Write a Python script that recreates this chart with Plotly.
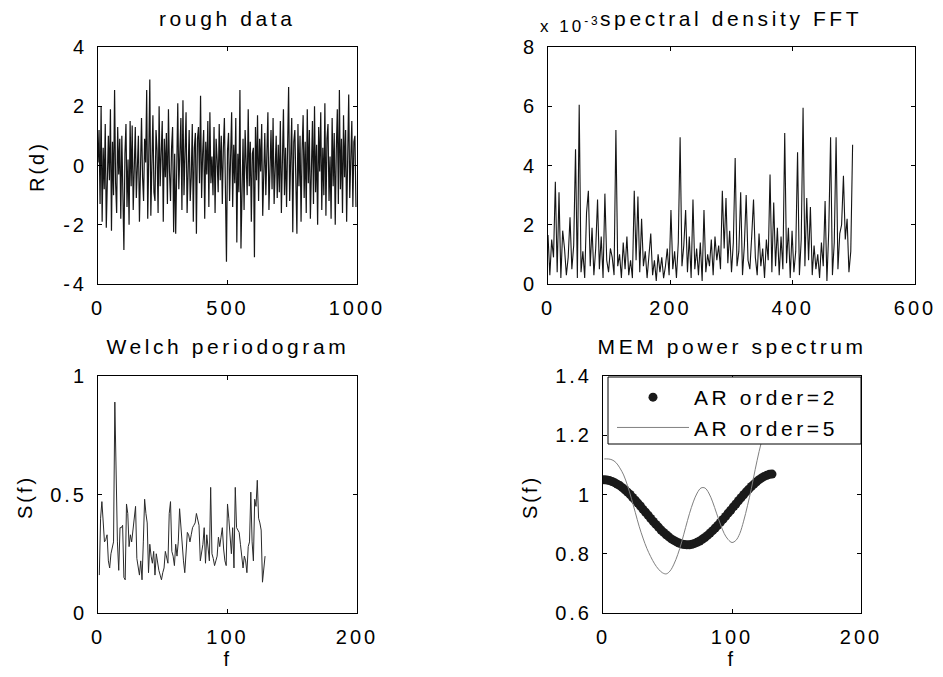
import numpy as np
import plotly.graph_objects as go

# ---------------- data ----------------
rough_step = 4
rough_vals = [
    0.1, 1.2, -1.3, 2.0, -1.9, 0.6, -0.8, 1.4, -2.1, 0.3, 1.0, -0.5, 1.9, -2.2, 0.8, -1.0, 2.55, -0.6, -1.6, 1.3, -0.3, 0.9, -1.8, 1.0, -1.1,
    -2.85, 0.4, 1.4, -1.4, 0.2, -2.0, 1.5, -0.7, 1.35, -1.5, 0.5, 1.3, -1.1, -0.3, 1.0, -1.9, 0.7, 1.6, -0.4, -1.2, 0.9, 0.1, 2.55, -1.8, 0.3,
    2.9, -1.7, 0.8, 1.7, -0.9, -1.2, 1.2, 0.5, -1.6, 2.0, -0.7, 0.3, 1.5, -1.9, 0.9, -0.4, 1.1, -1.3, 1.9, -0.2, -1.2, 0.6, 1.3, -2.25, 0.4,
    -2.3, 1.0, 2.1, -0.8, 0.2, 1.6, -1.5, 2.2, -1.0, 0.7, 1.8, -1.6, 0.1, 1.2, -1.2, -0.4, 1.4, -1.9, 0.6, 1.1, -2.3, 0.9, 1.3, -0.6, 2.35,
    -1.1, 0.4, 1.2, -1.8, 0.8, -0.3, 1.5, -1.4, 1.8, -0.6, 0.3, -1.0, 1.3, -1.6, 0.9, 0.2, -0.9, 1.4, -0.5, 1.0, -1.3, 0.6, 1.6, -0.8, -3.25,
    0.5, 1.1, -1.2, 0.2, 1.8, -1.4, 0.7, -0.6, 1.6, -2.6, 0.4, -0.9, 2.55, -2.8, -0.3, 0.9, -1.5, 1.2, 0.1, -1.0, 1.9, -0.7, 0.8, -1.9, 0.4,
    0.6, -3.1, 1.3, -0.5, 1.7, -1.2, 0.9, -0.2, 1.4, -1.7, 0.3, 1.1, -1.0, 0.5, 1.8, -1.5, -0.4, 1.2, -0.8, 1.6, -1.3, 0.2, 1.0, -1.1, 0.7,
    -0.9, 1.5, -1.6, 0.4, 1.9, -1.0, 0.6, -1.4, 0.9, 2.65, -1.2, 0.3, 1.6, -2.25, 0.8, 1.2, -0.5, -2.3, 1.4, -0.7, 1.0, -1.9, 0.5, 1.7, -1.1,
    0.8, -1.6, 1.9, -0.6, 1.2, -1.8, 0.4, 1.5, -1.3, 2.0, -0.9, 0.7, -2.0, 1.3, -0.2, 1.8, -1.5, 0.6, -1.0, 2.1, -1.7, 0.9, 1.4, -1.2, 0.3,
    -1.8, 1.6, -0.7, 1.1, -2.0, 0.5, 1.9, -1.3, 2.55, -0.8, 0.9, -1.6, 1.7, -0.4, 1.2, -1.9, 0.6, 2.4, -1.1, 0.3, 1.5, -1.4, 0.8, 1.0, -1.4,
]

fft_step = 3
fft_vals_e3 = [  # spectral density, in units of 1e-3
    1.65, 0.3, 1.5, 0.9, 3.45, 0.4, 3.1, 0.2, 1.8, 1.2,
    0.3, 0.9, 2.25, 0.5, 1.3, 4.55, 0.2, 6.05, 0.4, 1.1,
    0.2, 2.4, 3.15, 0.6, 1.9, 0.3, 1.2, 2.85, 0.5, 1.6,
    0.2, 3.05, 0.8, 0.4, 1.2, 0.9, 0.3, 5.2, 0.6, 1.0,
    0.2, 1.4, 0.5, 1.6, 0.3, 0.8, 0.2, 3.15, 0.8, 2.95,
    0.4, 2.2, 0.6, 1.1, 0.2, 1.0, 1.7, 0.3, 0.8, 0.1,
    1.0, 0.4, 0.9, 0.2, 0.6, 1.2, 0.3, 2.5, 0.5, 1.1,
    0.2, 1.4, 4.95, 0.6, 1.3, 2.5, 0.4, 1.6, 0.2, 2.85,
    0.5, 1.2, 0.3, 1.4, 0.1, 2.5, 0.4, 1.0, 0.6, 1.5,
    0.3, 1.6, 0.8, 1.3, 0.5, 3.15, 1.2, 2.9, 0.7, 1.8,
    0.4, 1.4, 4.25, 0.6, 1.1, 3.1, 0.3, 1.3, 3.0, 0.8,
    0.5, 1.6, 2.85, 0.9, 0.3, 1.7, 0.6, 1.2, 0.2, 1.5,
    0.8, 3.7, 0.4, 2.75, 0.6, 1.9, 0.3, 1.6, 0.5, 5.1,
    0.7, 1.9, 0.2, 1.8, 0.4, 1.1, 4.45, 0.3, 1.5, 5.95,
    0.6, 2.9, 0.8, 2.6, 0.3, 1.3, 0.5, 1.0, 0.2, 1.4,
    0.6, 2.8, 0.1, 1.8, 4.95, 0.3, 1.4, 4.95, 0.5, 1.7,
    2.0, 3.65, 1.5, 2.2, 0.4, 1.1, 4.7,
]

welch_vals = [
    0.16, 0.40, 0.47, 0.38, 0.30, 0.31, 0.33, 0.22, 0.19, 0.25,
    0.27, 0.30, 0.89, 0.55, 0.30, 0.18, 0.36, 0.36, 0.37, 0.15,
    0.14, 0.46, 0.42, 0.28, 0.33, 0.30, 0.36, 0.40, 0.45, 0.23,
    0.20, 0.16, 0.22, 0.14, 0.30, 0.48, 0.42, 0.38, 0.17, 0.29,
    0.24, 0.21, 0.26, 0.16, 0.25, 0.21, 0.18, 0.16, 0.14, 0.17,
    0.19, 0.26, 0.23, 0.21, 0.42, 0.47, 0.26, 0.24, 0.20, 0.29,
    0.24, 0.30, 0.44, 0.36, 0.30, 0.22, 0.17, 0.26, 0.34, 0.33,
    0.30, 0.33, 0.36, 0.37, 0.38, 0.42, 0.40, 0.37, 0.22, 0.26,
    0.29, 0.36, 0.21, 0.33, 0.28, 0.22, 0.53, 0.25, 0.23, 0.20,
    0.22, 0.24, 0.32, 0.28, 0.32, 0.36, 0.27, 0.22, 0.20, 0.46,
    0.40, 0.33, 0.25, 0.36, 0.19, 0.53, 0.36, 0.35, 0.34, 0.29,
    0.24, 0.19, 0.24, 0.22, 0.17, 0.28, 0.30, 0.51, 0.30, 0.22,
    0.48, 0.45, 0.56, 0.40, 0.38, 0.35, 0.13, 0.20, 0.24,
]

ar2_step = 2
ar2_vals = [
    1.050, 1.049, 1.047, 1.044, 1.040, 1.035, 1.030, 1.023, 1.016, 1.008,
    1.000, 0.990, 0.981, 0.971, 0.961, 0.950, 0.940, 0.930, 0.919, 0.909,
    0.899, 0.890, 0.880, 0.872, 0.864, 0.857, 0.850, 0.845, 0.840, 0.836,
    0.833, 0.831, 0.830, 0.830, 0.832, 0.835, 0.839, 0.843, 0.849, 0.855,
    0.862, 0.870, 0.878, 0.887, 0.896, 0.906, 0.916, 0.926, 0.937, 0.947,
    0.958, 0.968, 0.979, 0.989, 0.999, 1.009, 1.018, 1.027, 1.035, 1.043,
    1.050, 1.056, 1.061, 1.065, 1.068, 1.069,
]

ar5_step = 3
ar5_vals = [
    1.120, 1.120, 1.117, 1.108, 1.090, 1.066, 1.030, 0.987, 0.940, 0.893,
    0.853, 0.818, 0.790, 0.766, 0.748, 0.736, 0.732, 0.742, 0.765, 0.798,
    0.840, 0.888, 0.935, 0.975, 1.005, 1.022, 1.022, 1.005, 0.975, 0.937,
    0.900, 0.868, 0.848, 0.838, 0.845, 0.868, 0.910, 0.962, 1.020, 1.085,
    1.145, 1.198, 1.255, 1.310,
]

titles = ["rough data", "spectral density FFT", "Welch periodogram", "MEM power spectrum"]
legend_names = ["AR order=2", "AR order=5"]

# ---------------- figure ----------------
W, H = 943, 677
FONT = "Liberation Sans, Arial, Helvetica, sans-serif"


def fx(p):
    return p / W


def fy(p):
    return 1 - p / H


rough_x = np.arange(len(rough_vals)) * rough_step
fft_x = np.arange(len(fft_vals_e3)) * fft_step
welch_x = np.arange(1, len(welch_vals) + 1)
ar2_x = 1 + np.arange(len(ar2_vals)) * ar2_step
ar5_x = 1 + np.arange(len(ar5_vals)) * ar5_step

fig = go.Figure()
fig.add_trace(go.Scatter(x=rough_x, y=rough_vals, mode="lines", xaxis="x", yaxis="y",
                         line=dict(color="#151515", width=1.2), showlegend=False))
fig.add_trace(go.Scatter(x=fft_x, y=fft_vals_e3, mode="lines", xaxis="x2", yaxis="y2",
                         line=dict(color="#151515", width=1.1), showlegend=False))
fig.add_trace(go.Scatter(x=welch_x, y=welch_vals, mode="lines", xaxis="x3", yaxis="y3",
                         line=dict(color="#2a2a2a", width=1), showlegend=False))
fig.add_trace(go.Scatter(x=ar2_x, y=ar2_vals, mode="markers", xaxis="x4", yaxis="y4",
                         marker=dict(color="#1a1a1a", size=9), name=legend_names[0]))
fig.add_trace(go.Scatter(x=ar5_x, y=ar5_vals, mode="lines", xaxis="x4", yaxis="y4",
                         line=dict(color="#808080", width=1, shape="spline"), name=legend_names[1]))

axis_common = dict(showline=True, linecolor="black", linewidth=1, mirror="ticks",
                   ticks="inside", ticklen=4, tickcolor="black", showgrid=False,
                   zeroline=False, tickfont=dict(family=FONT, size=20, color="black"),
                   ticklabelstandoff=6, automargin=False)

top_dom = [fy(284), fy(47)]
bot_dom = [fy(613), fy(376)]

fig.update_layout(
    width=W, height=H, margin=dict(l=0, r=0, t=0, b=0, autoexpand=False),
    paper_bgcolor="white", plot_bgcolor="white",
    font=dict(family=FONT, size=20, color="black"),
    xaxis=dict(axis_common, domain=[fx(98), fx(357)], range=[0, 1000], tickvals=[0, 500, 1000], anchor="y"),
    yaxis=dict(axis_common, domain=top_dom, range=[-4, 4], tickvals=[-4, -2, 0, 2, 4],
               ticktext=["-4", "-2", "0", "2", "4"], anchor="x"),
    xaxis2=dict(axis_common, domain=[fx(548), fx(915)], range=[0, 600], tickvals=[0, 200, 400, 600], anchor="y2"),
    yaxis2=dict(axis_common, domain=top_dom, range=[0, 8], tickvals=[0, 2, 4, 6, 8], anchor="x2"),
    xaxis3=dict(axis_common, domain=[fx(98), fx(357)], range=[0, 200], tickvals=[0, 100, 200], anchor="y3"),
    yaxis3=dict(axis_common, domain=bot_dom, range=[0, 1], tickvals=[0, 0.5, 1],
                ticktext=["0", "0.5", "1"], anchor="x3"),
    xaxis4=dict(axis_common, domain=[fx(603), fx(861)], range=[0, 200], tickvals=[0, 100, 200], anchor="y4"),
    yaxis4=dict(axis_common, domain=bot_dom, range=[0.6, 1.4], tickvals=[0.6, 0.8, 1.0, 1.2, 1.4],
                ticktext=["0.6", "0.8", "1", "1.2", "1.4"], anchor="x4"),
    legend=dict(x=fx(612), y=fy(377), xanchor="left", yanchor="top",
                bgcolor="rgba(0,0,0,0)", borderwidth=0, font=dict(family=FONT, size=21, color="black"),
                itemwidth=72, tracegroupgap=0),
    showlegend=True,
)

# legend frame (covers the curve underneath, like the original)
fig.add_shape(type="rect", xref="paper", yref="paper", x0=fx(608), x1=fx(861), y0=fy(444), y1=fy(377),
              line=dict(color="black", width=1), fillcolor="white", layer="above")

ann = []


def txt(x, y, s, size=20, angle=0, xanchor="center"):
    ann.append(dict(x=fx(x), y=fy(y), xref="paper", yref="paper", text=s, showarrow=False,
                    xanchor=xanchor, yanchor="middle", textangle=angle,
                    font=dict(family=FONT, size=size, color="black")))


txt(227.5, 19, titles[0], size=21)
txt(731, 19, titles[1], size=21)
txt(227.5, 346, titles[2], size=21)
txt(732, 346, titles[3], size=21)
txt(547, 25, "x 10<sup>-3</sup>", size=17, xanchor="left")
txt(37, 167, "R(d)", angle=-90)
txt(25, 497, "S(f)", angle=-90)
txt(530, 497, "S(f)", angle=-90)
txt(227.5, 659, "f")
txt(732, 659, "f")
fig.update_layout(annotations=ann)

post = ("document.body.style.margin='0px';"
        "var g=document.getElementById('{plot_id}');"
        "g.querySelectorAll('.legend [clip-path]').forEach(function(e){e.removeAttribute('clip-path');});"
        "g.querySelectorAll('text').forEach(function(t){"
        "var fs=parseFloat(t.style.fontSize||'20');"
        "t.style.letterSpacing=(fs>=21?'3.6px':'3px');});")
fig.write_html("out.html", post_script=post, config={"displayModeBar": False, "staticPlot": True})
